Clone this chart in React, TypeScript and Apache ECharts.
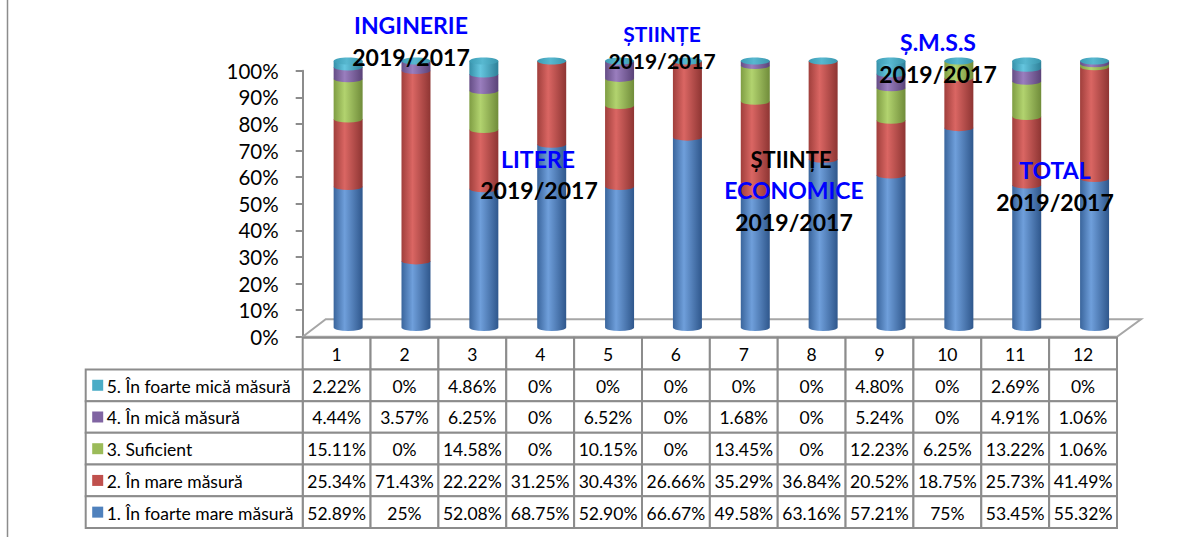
import React, { useEffect, useRef } from 'react';
import * as echarts from 'echarts';

const categories = ['1', '2', '3', '4', '5', '6', '7', '8', '9', '10', '11', '12'];
const seriesNames = [
  '1. În foarte mare măsură',
  '2. În mare măsură',
  '3. Suficient',
  '4. În mică măsură',
  '5. În foarte mică măsură',
];
const s1 = [52.89, 25, 52.08, 68.75, 52.9, 66.67, 49.58, 63.16, 57.21, 75, 53.45, 55.32];
const s2 = [25.34, 71.43, 22.22, 31.25, 30.43, 26.66, 35.29, 36.84, 20.52, 18.75, 25.73, 41.49];
const s3 = [15.11, 0, 14.58, 0, 10.15, 0, 13.45, 0, 12.23, 6.25, 13.22, 1.06];
const s4 = [4.44, 3.57, 6.25, 0, 6.52, 0, 1.68, 0, 5.24, 0, 4.91, 1.06];
const s5 = [2.22, 0, 4.86, 0, 0, 0, 0, 0, 4.8, 0, 2.69, 0];
const seriesValues = [s1, s2, s3, s4, s5];

const annotationLines = [
  { text: 'INGINERIE', color: '#0000FF', x: 411, y: 25, size: 23 },
  { text: '2019/2017', color: '#000000', x: 411, y: 57, size: 23 },
  { text: 'LITERE', color: '#0000FF', x: 538, y: 159, size: 23 },
  { text: '2019/2017', color: '#000000', x: 539, y: 190, size: 23 },
  { text: 'ȘTIINȚE', color: '#0000FF', x: 662, y: 33, size: 21 },
  { text: '2019/2017', color: '#000000', x: 662, y: 60, size: 21 },
  { text: 'ȘTIINȚE', color: '#000000', x: 791, y: 159, size: 22 },
  { text: 'ECONOMICE', color: '#0000FF', x: 794, y: 190, size: 23 },
  { text: '2019/2017', color: '#000000', x: 794, y: 222, size: 23 },
  { text: 'Ș.M.S.S', color: '#0000FF', x: 938, y: 42, size: 23 },
  { text: '2019/2017', color: '#000000', x: 938, y: 74, size: 23 },
  { text: 'TOTAL', color: '#0000FF', x: 1055, y: 170, size: 23 },
  { text: '2019/2017', color: '#000000', x: 1055, y: 202, size: 23 },
];

const FONT = 'Lato, "Open Sans", "Noto Sans", sans-serif';
const TABLE_FONT_SIZE = 17.5;
const palette = [
  { base: '#4F81BD', light: '#6F9FDB', dark: '#3A659C', dark2: '#2F578C' },
  { base: '#C0504D', light: '#DA6663', dark: '#A03F3C', dark2: '#8E3533' },
  { base: '#9BBB59', light: '#B2D36F', dark: '#7F9D43', dark2: '#708C3A' },
  { base: '#8064A2', light: '#9A7EBE', dark: '#654D85', dark2: '#5A4378' },
  { base: '#4BACC6', light: '#65C6DF', dark: '#358FA8', dark2: '#2E8098' },
];

function grad(p: { light: string; dark: string; dark2: string }) {
  return {
    type: 'linear', x: 0, y: 0, x2: 1, y2: 0,
    colorStops: [
      { offset: 0, color: p.dark },
      { offset: 0.38, color: p.light },
      { offset: 1, color: p.dark2 },
    ],
  };
}

function fmt(v: number) {
  return Number.isInteger(v) ? `${v}%` : `${v.toFixed(2)}%`;
}

const totals = categories.map((_, c) => seriesValues.reduce((a, s) => a + s[c], 0));
const cylinderData = categories.map((_, c) => [c, ...seriesValues.map((s) => (s[c] / totals[c]) * 100)]);

const tableRows = ['', '5', '4', '3', '2', '1'];
const tableData: number[][] = [];
for (let r = 0; r < tableRows.length; r++) {
  for (let c = 0; c < categories.length; c++) tableData.push([c, r]);
}
const legendData = [1, 2, 3, 4, 5].map((r) => [0, r]);

const AX_LEFT = 302.7;
const AX_W = 814.3;

export default function App() {
  const ref = useRef<HTMLDivElement>(null);
  useEffect(() => {
    if (!ref.current) return;
    const chart = echarts.init(ref.current, null, { renderer: 'svg' });
    const option: any = {
      animation: false,
      backgroundColor: '#ffffff',
      grid: [
        { left: AX_LEFT, top: 70.7, width: AX_W, height: 266 },
        { left: AX_LEFT + 11.5, top: 61, width: AX_W, height: 266.5 },
        { left: AX_LEFT, top: 337.7, width: AX_W, height: 190.3 },
      ],
      xAxis: [
        { type: 'category', gridIndex: 0, data: categories, show: false },
        { type: 'category', gridIndex: 1, data: categories, show: false },
        { type: 'category', gridIndex: 2, data: categories, show: false },
      ],
      yAxis: [
        {
          type: 'value', gridIndex: 0, min: 0, max: 100, interval: 10,
          axisLine: { show: true, lineStyle: { color: '#8C8C8C', width: 2 } },
          axisTick: { show: true, length: 7, lineStyle: { color: '#8C8C8C', width: 2 } },
          splitLine: { show: false },
          axisLabel: { formatter: '{value}%', color: '#000', fontSize: 20.5, fontFamily: FONT, margin: 24 },
        },
        { type: 'value', gridIndex: 1, min: 0, max: 100, show: false },
        { type: 'category', gridIndex: 2, data: tableRows, inverse: true, show: false },
      ],
      series: [
        {
          type: 'custom',
          xAxisIndex: 1,
          yAxisIndex: 1,
          z: 5,
          data: cylinderData,
          encode: { x: 0, y: 1 },
          renderItem: (params: any, api: any) => {
            const c = api.value(0);
            const w = 29;
            const rx = w / 2;
            const ry = 3.5;
            const xc = api.coord([c, 0])[0];
            const x0 = xc - rx;
            const x1 = xc + rx;
            const children: any[] = [];
            let cum = 0;
            for (let j = 0; j < 5; j++) {
              const v = api.value(j + 1);
              if (!(v > 0)) continue;
              const yb = api.coord([c, cum])[1];
              const yt = api.coord([c, cum + v])[1];
              cum += v;
              children.push({
                type: 'path',
                shape: {
                  pathData: `M${x0} ${yt} L${x0} ${yb} A${rx} ${ry} 0 0 0 ${x1} ${yb} L${x1} ${yt} Z`,
                },
                style: { fill: grad(palette[j]) },
              });
            }
            const ytop = api.coord([c, cum])[1];
            children.push({
              type: 'ellipse',
              shape: { cx: xc, cy: ytop, rx, ry },
              style: {
                fill: {
                  type: 'linear', x: 0, y: 0, x2: 1, y2: 0,
                  colorStops: [
                    { offset: 0, color: '#3C9CB4' },
                    { offset: 0.45, color: '#58B8D0' },
                    { offset: 1, color: '#3A96AD' },
                  ],
                },
              },
            });
            return { type: 'group', children };
          },
        },
        {
          type: 'custom',
          xAxisIndex: 2,
          yAxisIndex: 2,
          z: 3,
          data: tableData,
          encode: { x: 0, y: 1 },
          renderItem: (params: any, api: any) => {
            const c = api.value(0);
            const r = api.value(1);
            const p = api.coord([c, r]);
            const sz = api.size([1, 1]);
            const text = r === 0 ? categories[c] : fmt(seriesValues[5 - r][c]);
            return {
              type: 'group',
              children: [
                {
                  type: 'rect',
                  shape: { x: p[0] - sz[0] / 2, y: p[1] - sz[1] / 2, width: sz[0], height: sz[1] },
                  style: { fill: '#fff', stroke: '#8C8C8C', lineWidth: 2 },
                },
                {
                  type: 'text',
                  style: {
                    text, x: p[0], y: p[1] + 1, align: 'center', verticalAlign: 'middle',
                    fontSize: TABLE_FONT_SIZE, fontFamily: FONT, fill: '#000',
                  },
                },
              ],
            };
          },
        },
        {
          type: 'custom',
          xAxisIndex: 2,
          yAxisIndex: 2,
          z: 3,
          data: legendData,
          encode: { x: 0, y: 1 },
          renderItem: (params: any, api: any) => {
            const r = api.value(1);
            const p = api.coord([0, r]);
            const sz = api.size([1, 1]);
            const gx = params.coordSys.x;
            const si = 5 - r;
            return {
              type: 'group',
              children: [
                {
                  type: 'rect',
                  shape: { x: gx - 217, y: p[1] - sz[1] / 2, width: 217, height: sz[1] },
                  style: { fill: '#fff', stroke: '#8C8C8C', lineWidth: 2 },
                },
                {
                  type: 'rect',
                  shape: { x: gx - 210.5, y: p[1] - 5.5, width: 11, height: 11 },
                  style: { fill: palette[si].base },
                },
                {
                  type: 'text',
                  style: {
                    text: seriesNames[si], x: gx - 196, y: p[1] + 1, align: 'left', verticalAlign: 'middle',
                    fontSize: TABLE_FONT_SIZE, fontFamily: FONT, fill: '#000',
                  },
                },
              ],
            };
          },
        },
      ],
      graphic: [
        {
          type: 'line', z: 1,
          shape: { x1: 7.5, y1: 0, x2: 7.5, y2: 537 },
          style: { stroke: '#8C8C8C', lineWidth: 1.5 },
        },
        {
          type: 'polygon', z: 1,
          shape: { points: [[302.7, 336.7], [325.7, 319.3], [1141, 319.3], [1117, 336.7]] },
          style: { fill: '#fff', stroke: '#A6A6A6', lineWidth: 2 },
        },
        ...annotationLines.map((a) => ({
          type: 'text', z: 100,
          x: a.x, y: a.y,
          style: {
            text: a.text, fill: a.color,
            font: `bold ${a.size}px ${FONT}`,
            align: 'center', verticalAlign: 'middle',
            textAlign: 'center', textVerticalAlign: 'middle',
          },
        })),
      ],
    };
    chart.setOption(option);
    return () => chart.dispose();
  }, []);
  return (
    <div
      ref={ref}
      style={{ position: 'fixed', left: 0, top: 0, width: 1193, height: 537, background: '#fff' }}
    />
  );
}
